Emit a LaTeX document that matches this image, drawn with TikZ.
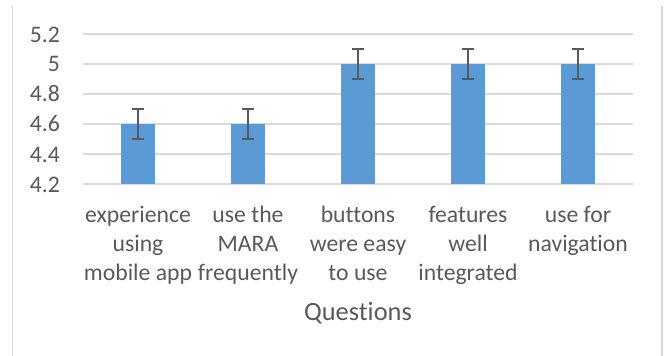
\documentclass[tikz,border=0pt]{standalone}
\usepackage{fontspec}
\setmainfont[Ligatures={NoCommon}]{Carlito}
\definecolor{barblue}{HTML}{5B9BD5}
\definecolor{gridgray}{HTML}{D9D9D9}
\definecolor{txtgray}{HTML}{595959}
\tikzset{
  gridline/.style={draw=gridgray, line width=1.5pt},
  framel/.style={draw=gridgray, line width=1.5pt},
  barbox/.style={fill=barblue, draw=none},
  errbar/.style={draw=txtgray, line width=1.5pt},
  ticklbl/.style={anchor=base east, inner sep=0pt, text=txtgray, font=\fontsize{23.7}{29}\selectfont},
  catlbl/.style={anchor=base, inner sep=0pt, text=txtgray, font=\fontsize{23.7}{29}\selectfont},
  axtitle/.style={anchor=base, inner sep=0pt, text=txtgray, font=\fontsize{26.4}{32}\selectfont},
}
\begin{document}
\begin{tikzpicture}[x=1pt,y=-1pt]
\useasboundingbox (0,0) rectangle (665,356);
% frame
\coordinate (fl1) at (12.5,6); \coordinate (fl2) at (12.5,356);
\coordinate (fr1) at (662,6); \coordinate (fr2) at (662,356);
\draw[framel] (fl1) -- (fl2);
\draw[framel] (fr1) -- (fr2);
% gridlines and ticks
\foreach \v/\lab [count=\i] in {4.2/4.2,4.4/4.4,4.6/4.6,4.8/4.8,5.0/5,5.2/5.2}{
  \pgfmathsetmacro{\yy}{184-(\v-4.2)*150}
  \coordinate (gl\i) at (83,\yy);
  \coordinate (gr\i) at (633,\yy);
  \draw[gridline] (gl\i) -- (gr\i);
  \node[ticklbl] (t\i) at (60,\yy+8) {\lab};
}
% bars with error bars
\foreach \cx/\v [count=\i] in {138/4.6,248/4.6,358/5.0,468/5.0,578/5.0}{
  \pgfmathsetmacro{\yt}{184-(\v-4.2)*150}
  \pgfmathsetmacro{\yhi}{184-(\v+0.1-4.2)*150}
  \pgfmathsetmacro{\ylo}{184-(\v-0.1-4.2)*150}
  \path[barbox] (\cx-17,184) rectangle (\cx+17,\yt);
  \coordinate (eh\i) at (\cx,\yhi);
  \coordinate (el\i) at (\cx,\ylo);
  \draw[errbar] (eh\i) -- (el\i);
  \draw[errbar] ([xshift=-6pt]eh\i) -- ([xshift=6pt]eh\i);
  \draw[errbar] ([xshift=-6pt]el\i) -- ([xshift=6pt]el\i);
}
% category labels
\node[catlbl] (c1a) at (138,222) {experience};
\node[catlbl] (c1b) at (138,251) {using};
\node[catlbl] (c1c) at (138,280) {mobile app};
\node[catlbl] (c2a) at (248,222) {use the};
\node[catlbl] (c2b) at (248,251) {MARA};
\node[catlbl] (c2c) at (248,280) {frequently};
\node[catlbl] (c3a) at (358,222) {buttons};
\node[catlbl] (c3b) at (358,251) {were easy};
\node[catlbl] (c3c) at (358,280) {to use};
\node[catlbl] (c4a) at (468,222) {features};
\node[catlbl] (c4b) at (468,251) {well};
\node[catlbl] (c4c) at (468,280) {integrated};
\node[catlbl] (c5a) at (578,222) {use for};
\node[catlbl] (c5b) at (578,251) {navigation};
\node[axtitle] (qt) at (358,320) {Questions};
\end{tikzpicture}
\end{document}
